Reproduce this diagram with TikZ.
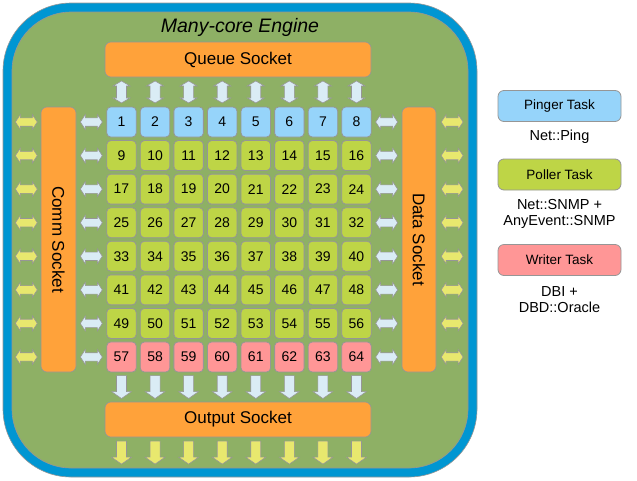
\documentclass[tikz,border=0pt]{standalone}
\usepackage{fontspec}
\setmainfont{Liberation Sans}
\usetikzlibrary{calc}
\definecolor{bordblue}{RGB}{0,150,210}
\definecolor{bggreen}{RGB}{142,176,101}
\definecolor{sockorange}{RGB}{255,162,58}
\definecolor{pingblue}{RGB}{150,212,250}
\definecolor{pollgreen}{RGB}{190,213,70}
\definecolor{writepink}{RGB}{255,150,150}
\definecolor{arrblue}{RGB}{218,236,245}
\definecolor{arryellow}{RGB}{232,232,110}
\definecolor{edgegray}{RGB}{150,150,150}
\tikzset{
  cell/.style={draw=edgegray, line width=0.8pt, rounded corners=4pt, minimum width=29.5pt, minimum height=30pt, inner sep=0pt, font=\fontsize{14}{16}\selectfont},
  socket/.style={draw=edgegray, fill=sockorange, rounded corners=6pt, line width=0.6pt, inner sep=0pt, font=\fontsize{17}{20}\selectfont},
  legbox/.style={draw=edgegray, rounded corners=6pt, minimum width=123pt, minimum height=31pt, inner sep=0pt, line width=0.8pt, font=\fontsize{13.5}{16}\selectfont},
  legtext/.style={align=center, inner sep=0pt, font=\fontsize{14.5}{16.5}\selectfont},
  blueway/.style={fill=arrblue, draw=edgegray, line width=0.6pt},
  yellowway/.style={fill=arryellow, draw=edgegray, line width=0.6pt},
  harrow/.pic={\draw[pic actions] (-11,0) -- (-6,-7.5) -- (-6,-4.2) -- (6,-4.2) -- (6,-7.5) -- (11,0) -- (6,7.5) -- (6,4.2) -- (-6,4.2) -- (-6,7.5) -- cycle;},
  varrow/.pic={\draw[pic actions] (0,-11) -- (8.5,-6) -- (5,-6) -- (5,6) -- (8.5,6) -- (0,11) -- (-8.5,6) -- (-5,6) -- (-5,-6) -- (-8.5,-6) -- cycle;},
  darrow/.pic={\draw[pic actions] (-5,-11.5) -- (5,-11.5) -- (5,4.5) -- (10,4.5) -- (0,11.5) -- (-10,4.5) -- (-5,4.5) -- cycle;}
}
\begin{document}
\begin{tikzpicture}[x=1pt,y=-1pt]
\useasboundingbox[fill=white] (0,0) rectangle (637,480);
% engine frame
\draw[draw=edgegray, fill=bordblue, line width=0.6pt, rounded corners=68pt] (3,3) rectangle (477,477);
\draw[draw=edgegray, fill=bggreen, line width=0.6pt, rounded corners=59pt] (12,12) rectangle (468,468);
\coordinate (inL) at (12,240);
\coordinate (inR) at (468,240);
\coordinate (inB) at (240,468);
\node[font=\fontsize{19.5}{22}\selectfont\itshape, inner sep=0pt] (title) at (240,27) {Many-core Engine};
% sockets
\node[socket, minimum width=266pt, minimum height=35pt] (queue) at (238,59.5) {Queue Socket};
\node[socket, minimum width=266pt, minimum height=35pt] (output) at (238,419.5) {Output Socket};
\node[socket, minimum width=35pt, minimum height=265pt] (comm) at (58.5,239.5) {\rotatebox{-90}{Comm Socket}};
\node[socket, minimum width=34pt, minimum height=265pt] (data) at (419,239.5) {\rotatebox{-90}{Data Socket}};
% cells
\foreach \r in {0,...,7}{
  \foreach \c in {0,...,7}{
    \pgfmathtruncatemacro\n{8*\r+\c+1}
    \ifnum\r=0 \def\cf{pingblue}\else\ifnum\r=7 \def\cf{writepink}\else\def\cf{pollgreen}\fi\fi
    \node[cell, fill=\cf] (c\n) at ({121.5+33.57*\c},{122+33.57*\r}) {\n};
  }
}
% horizontal arrows
\foreach \r in {0,...,7}{
  \pgfmathtruncatemacro\a{8*\r+1}
  \pgfmathtruncatemacro\b{8*\r+8}
  \pic[yellowway] at ($(inL |- c\a)!0.5!(comm.west |- c\a)$) {harrow};
  \pic[blueway] at ($(comm.east |- c\a)!0.5!(c\a.west)$) {harrow};
  \pic[blueway] at ($(c\b.east)!0.5!(data.west |- c\b)$) {harrow};
  \pic[yellowway] at ($(data.east |- c\b)!0.5!(inR |- c\b)$) {harrow};
}
% vertical arrows
\foreach \c in {1,...,8}{
  \pgfmathtruncatemacro\d{56+\c}
  \pic[blueway] at ($(queue.south -| c\c)!0.5!(c\c.north)$) {varrow};
  \pic[blueway] at ($(c\d.south)!0.5!(output.north -| c\d)$) {darrow};
  \pic[yellowway] at ($(output.south -| c\d)!0.5!(inB -| c\d)$) {darrow};
}
% legend
\node[legbox, fill=pingblue] (pinger) at (559.5,106) {Pinger Task};
\node[legtext] (lping) at (559.5,137) {Net::Ping};
\node[legbox, fill=pollgreen] (poller) at (559.5,174.5) {Poller Task};
\node[legtext] (lpoll) at (559.5,214) {Net::SNMP +\\AnyEvent::SNMP};
\node[legbox, fill=writepink] (writer) at (559.5,260) {Writer Task};
\node[legtext] (lwrite) at (559.5,299.5) {DBI +\\DBD::Oracle};
\end{tikzpicture}
\end{document}
